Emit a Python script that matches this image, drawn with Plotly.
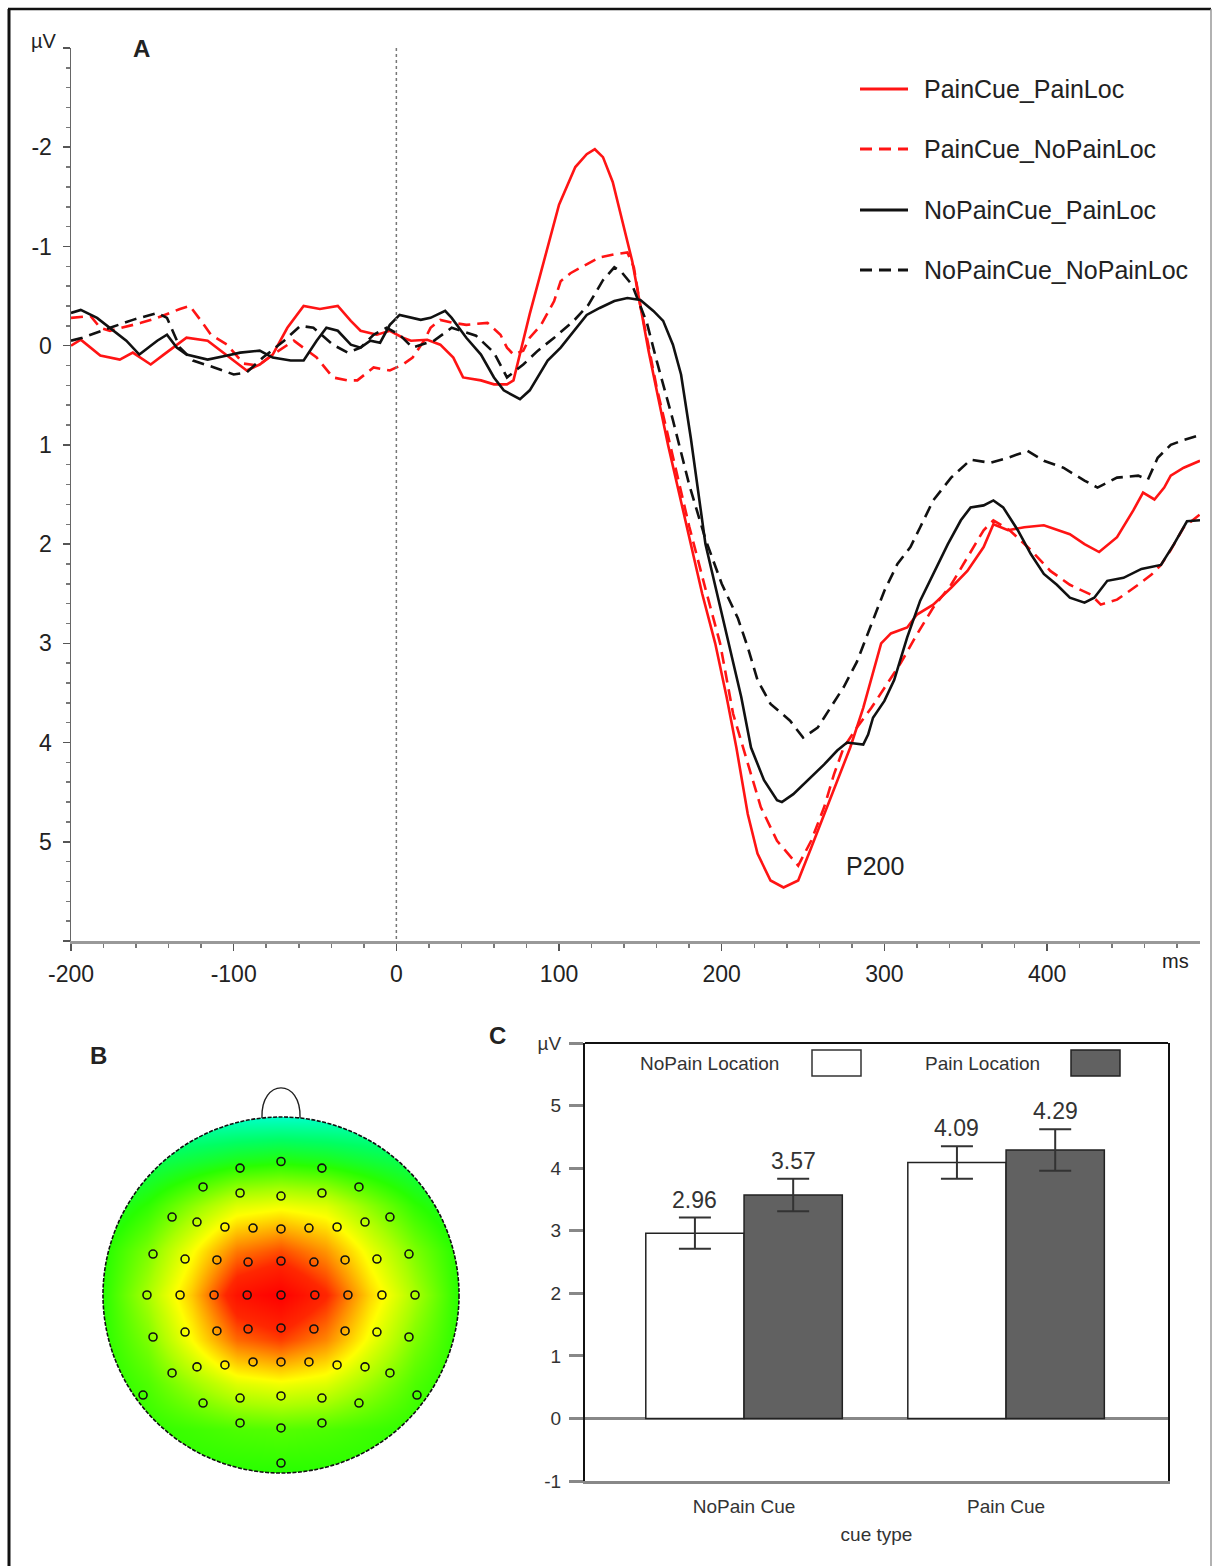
import math
import plotly.graph_objects as go

W, H = 1213, 1566
FONT = "Liberation Sans, Arial, sans-serif"

# ---------------- Panel A: ERP waveforms (ms, µV) ----------------
rs_t = [-200, -194, -182, -170, -162, -151, -143, -129, -116, -108,
        -100, -92, -84, -76, -67, -57, -47, -36, -28, -22,
        -12, -4, 4, 9, 19, 27, 35, 41, 52, 60,
        68, 72, 82, 93, 100, 110, 117, 122, 127, 133,
        140, 145, 150, 155, 160, 167, 174, 181, 188, 196,
        203, 209, 216, 222, 230, 238, 247, 255, 263, 271,
        279, 287, 293, 298, 304, 314, 320, 330, 341, 351,
        361, 367, 376, 386, 398, 414, 423, 432, 443, 453,
        459, 466, 472, 476, 484, 494]
rs_v = [0.00, -0.06, 0.10, 0.14, 0.07, 0.19, 0.09, -0.08, -0.05, 0.05,
        0.15, 0.25, 0.19, 0.09, -0.18, -0.40, -0.37, -0.40, -0.25, -0.15,
        -0.11, -0.15, -0.08, -0.05, -0.06, -0.01, 0.12, 0.32, 0.35, 0.39,
        0.39, 0.35, -0.32, -0.99, -1.42, -1.80, -1.93, -1.98, -1.90, -1.65,
        -1.20, -0.85, -0.40, 0.05, 0.45, 1.00, 1.50, 2.00, 2.50, 3.00,
        3.54, 4.05, 4.72, 5.12, 5.39, 5.46, 5.39, 5.06, 4.72, 4.38,
        4.05, 3.65, 3.30, 3.00, 2.90, 2.84, 2.71, 2.61, 2.44, 2.27,
        2.03, 1.80, 1.86, 1.83, 1.81, 1.90, 2.00, 2.08, 1.93, 1.66,
        1.48, 1.55, 1.43, 1.31, 1.23, 1.16]

rd_t = [-200, -188, -182, -176, -157, -147, -133, -127, -120, -114,
        -104, -94, -85, -75, -63, -49, -39, -30, -24, -14,
        -4, 4, 10, 17, 21, 27, 35, 43, 56, 64,
        68, 72, 78, 82, 89, 97, 101, 107, 117, 125,
        134, 142, 146, 150, 155, 160, 170, 180, 190, 199,
        207, 216, 224, 234, 247, 255, 263, 269, 275, 283,
        292, 300, 310, 320, 330, 341, 351, 361, 367, 377,
        390, 402, 414, 427, 433, 443, 456, 464, 470, 476,
        484, 494]
rd_v = [-0.28, -0.30, -0.18, -0.15, -0.23, -0.28, -0.37, -0.40, -0.25, -0.11,
        -0.01, 0.18, 0.20, 0.08, -0.05, 0.12, 0.32, 0.35, 0.35, 0.22,
        0.25, 0.19, 0.12, -0.05, -0.18, -0.26, -0.23, -0.21, -0.23, -0.11,
        0.02, 0.09, 0.05, -0.08, -0.21, -0.45, -0.65, -0.73, -0.82, -0.89,
        -0.92, -0.94, -0.79, -0.40, 0.00, 0.42, 1.12, 1.82, 2.45, 3.00,
        3.71, 4.22, 4.65, 4.99, 5.24, 4.99, 4.65, 4.32, 4.05, 3.85,
        3.65, 3.45, 3.20, 2.91, 2.64, 2.41, 2.13, 1.86, 1.76, 1.86,
        2.06, 2.27, 2.41, 2.51, 2.61, 2.56, 2.41, 2.31, 2.21, 2.06,
        1.83, 1.70]

bs_t = [-200, -194, -184, -174, -166, -158, -147, -141, -135, -129,
        -116, -104, -96, -84, -76, -65, -57, -49, -43, -36,
        -28, -22, -16, -10, -4, 2, 15, 21, 30, 34,
        43, 52, 60, 66, 76, 82, 93, 101, 109, 117,
        125, 134, 142, 150, 158, 164, 170, 175, 181, 190,
        200, 205, 212, 218, 226, 234, 237, 244, 253, 263,
        271, 277, 287, 290, 293, 300, 306, 314, 322, 330,
        339, 347, 353, 361, 367, 373, 382, 390, 398, 406,
        414, 423, 429, 437, 447, 458, 470, 478, 486, 494]
bs_v = [-0.33, -0.36, -0.28, -0.15, -0.05, 0.09, -0.05, -0.11, 0.02, 0.09,
        0.14, 0.10, 0.07, 0.05, 0.12, 0.15, 0.15, -0.05, -0.18, -0.15,
        -0.01, 0.02, -0.05, -0.03, -0.21, -0.31, -0.26, -0.28, -0.35, -0.28,
        -0.08, 0.09, 0.32, 0.45, 0.54, 0.45, 0.15, 0.02, -0.15, -0.31,
        -0.38, -0.45, -0.48, -0.46, -0.35, -0.25, -0.01, 0.29, 0.93, 2.00,
        2.70, 3.04, 3.54, 4.05, 4.38, 4.58, 4.60, 4.52, 4.38, 4.22,
        4.08, 4.00, 4.02, 3.92, 3.75, 3.58, 3.37, 2.94, 2.57, 2.30,
        2.00, 1.76, 1.63, 1.61, 1.56, 1.63, 1.86, 2.10, 2.30, 2.41,
        2.54, 2.59, 2.54, 2.37, 2.34, 2.25, 2.21, 2.00, 1.77, 1.76]

bd_t = [-200, -193, -176, -162, -147, -141, -133, -125, -112, -100,
        -92, -82, -69, -59, -51, -39, -30, -22, -14, -6,
        2, 10, 23, 34, 49, 60, 68, 78, 87, 97,
        109, 118, 127, 134, 138, 145, 154, 160, 170, 180,
        190, 200, 210, 216, 222, 230, 242, 250, 259, 267,
        275, 283, 292, 300, 308, 316, 322, 330, 341, 353,
        365, 376, 388, 398, 410, 423, 431, 443, 456, 462,
        468, 476, 484, 494]
bd_v = [-0.05, -0.08, -0.18, -0.26, -0.33, -0.28, 0.02, 0.15, 0.22, 0.29,
        0.27, 0.12, -0.05, -0.20, -0.18, -0.01, 0.07, 0.02, -0.11, -0.18,
        -0.11, 0.02, -0.05, -0.18, -0.10, 0.07, 0.32, 0.19, 0.05, -0.08,
        -0.25, -0.41, -0.66, -0.79, -0.75, -0.61, -0.23, 0.15, 0.75, 1.40,
        1.95, 2.40, 2.75, 3.04, 3.37, 3.61, 3.78, 3.95, 3.85, 3.65,
        3.44, 3.19, 2.81, 2.47, 2.20, 2.03, 1.83, 1.56, 1.33, 1.15,
        1.18, 1.13, 1.06, 1.16, 1.23, 1.36, 1.43, 1.33, 1.31, 1.35,
        1.13, 1.00, 0.95, 0.90]

series_names = ["PainCue_PainLoc", "PainCue_NoPainLoc",
                "NoPainCue_PainLoc", "NoPainCue_NoPainLoc"]
x_ticks = [-200, -100, 0, 100, 200, 300, 400]
x_ticklabels = ["-200", "-100", "0", "100", "200", "300", "400"]
y_ticks = [-3, -2, -1, 0, 1, 2, 3, 4, 5, 6]
y_ticklabels = ["", "-2", "-1", "0", "1", "2", "3", "4", "5", ""]

# ---------------- Panel C: bar chart ----------------
cue_types = ["NoPain Cue", "Pain Cue"]
nopainloc_mean = [2.96, 4.09]
nopainloc_err = [0.25, 0.26]
painloc_mean = [3.57, 4.29]
painloc_err = [0.26, 0.33]
bar_y_ticks = [-1, 0, 1, 2, 3, 4, 5, 6]
bar_y_labels = ["-1", "0", "1", "2", "3", "4", "5", "µV"]

# ---------------- Panel B: topography (relative amplitude) ----------------
topo_x = [-1, -0.75, -0.5, -0.25, 0, 0.25, 0.5, 0.75, 1]
topo_y = [-1, -0.75, -0.5, -0.25, 0, 0.25, 0.5, 0.75, 1]
topo_z = [
    [0.25, 0.25, 0.25, 0.25, 0.25, 0.25, 0.25, 0.25, 0.25],
    [0.25, 0.26, 0.28, 0.30, 0.31, 0.30, 0.28, 0.26, 0.25],
    [0.24, 0.30, 0.40, 0.50, 0.53, 0.50, 0.40, 0.30, 0.24],
    [0.25, 0.36, 0.55, 0.76, 0.82, 0.72, 0.53, 0.36, 0.25],
    [0.25, 0.42, 0.63, 0.93, 1.00, 0.86, 0.61, 0.42, 0.25],
    [0.24, 0.36, 0.54, 0.74, 0.80, 0.70, 0.52, 0.36, 0.24],
    [0.18, 0.26, 0.38, 0.50, 0.53, 0.50, 0.38, 0.26, 0.18],
    [0.10, 0.14, 0.18, 0.22, 0.24, 0.22, 0.18, 0.14, 0.10],
    [0.00, 0.00, 0.00, 0.00, 0.00, 0.00, 0.00, 0.00, 0.00],
]
elec_x = [0.0, -0.23, 0.23,
          -0.438, -0.23, 0.0, 0.23, 0.438,
          -0.612, -0.472, -0.315, -0.157, 0.0, 0.157, 0.315, 0.472, 0.612,
          -0.719, -0.539, -0.36, -0.185, 0.0, 0.185, 0.36, 0.539, 0.719,
          -0.753, -0.567, -0.376, -0.19, 0.0, 0.19, 0.376, 0.567, 0.753,
          -0.719, -0.539, -0.36, -0.185, 0.0, 0.185, 0.36, 0.539, 0.719,
          -0.612, -0.472, -0.315, -0.157, 0.0, 0.157, 0.315, 0.472, 0.612,
          -0.775, 0.764,
          -0.438, -0.23, 0.0, 0.23, 0.438,
          -0.23, 0.0, 0.23,
          0.0]
elec_y = [0.75, 0.713, 0.713,
          0.607, 0.573, 0.556, 0.573, 0.607,
          0.438, 0.41, 0.382, 0.376, 0.371, 0.376, 0.382, 0.41, 0.438,
          0.23, 0.202, 0.197, 0.185, 0.191, 0.185, 0.197, 0.202, 0.23,
          0.0, 0.0, 0.0, 0.0, 0.0, 0.0, 0.0, 0.0, 0.0,
          -0.236, -0.208, -0.202, -0.191, -0.185, -0.191, -0.202, -0.208, -0.236,
          -0.438, -0.404, -0.393, -0.376, -0.376, -0.376, -0.393, -0.404, -0.438,
          -0.562, -0.562,
          -0.607, -0.579, -0.567, -0.579, -0.607,
          -0.719, -0.747, -0.719,
          -0.944]

TOPO_CS = [[0.0, "rgb(0,255,200)"], [0.12, "rgb(0,255,100)"],
           [0.25, "rgb(40,255,0)"], [0.42, "rgb(170,255,0)"],
           [0.55, "rgb(255,255,0)"], [0.7, "rgb(255,150,0)"],
           [0.85, "rgb(255,40,0)"], [1.0, "rgb(255,0,0)"]]


def pxx(x):
    return x / W


def pyy(y):
    return 1 - y / H


RED = "#ff1414"
BLK = "#111111"
DASH = "12px,7px"

fig = go.Figure()

styles = [(rs_t, rs_v, RED, "solid"), (rd_t, rd_v, RED, DASH),
          (bs_t, bs_v, BLK, "solid"), (bd_t, bd_v, BLK, DASH)]
for name, (t, v, c, d) in zip(series_names, styles):
    fig.add_trace(go.Scatter(x=t, y=v, mode="lines", name=name,
                             line=dict(color=c, width=2.6, dash=d),
                             showlegend=False, xaxis="x", yaxis="y",
                             hoverinfo="skip"))

bargap = 0.25
bar_w = (1 - bargap) / 2
cat_x = list(range(len(cue_types)))
fig.add_trace(go.Bar(x=cat_x, y=nopainloc_mean, name="NoPain Location",
                     marker=dict(color="white", line=dict(color="#222", width=1.5)),
                     error_y=dict(type="data", array=nopainloc_err, color="#333",
                                  thickness=2, width=16),
                     xaxis="x2", yaxis="y2", showlegend=False))
fig.add_trace(go.Bar(x=cat_x, y=painloc_mean, name="Pain Location",
                     marker=dict(color="#616161", line=dict(color="#222", width=1.5)),
                     error_y=dict(type="data", array=painloc_err, color="#333",
                                  thickness=2, width=16),
                     xaxis="x2", yaxis="y2", showlegend=False))

fig.add_trace(go.Heatmap(x=topo_x, y=topo_y, z=topo_z, zsmooth="best",
                         colorscale=TOPO_CS, zmin=0, zmax=1, showscale=False,
                         xaxis="x3", yaxis="y3", hoverinfo="skip"))
fig.add_trace(go.Scatter(x=elec_x, y=elec_y, mode="markers",
                         marker=dict(symbol="circle-open", size=8, color="#111",
                                     line=dict(width=1.6, color="#111")),
                         xaxis="x3", yaxis="y3", showlegend=False, hoverinfo="skip"))

ann = []


def text(x, y, s, size, bold=False, xanchor="center", color="#222"):
    ann.append(dict(x=pxx(x), y=pyy(y), xref="paper", yref="paper",
                    text=f"<b>{s}</b>" if bold else s,
                    showarrow=False, xanchor=xanchor, yanchor="middle",
                    font=dict(family=FONT, size=size, color=color)))


text(44, 41, "µV", 20)
text(141, 48, "A", 24, bold=True)
text(1175, 961, "ms", 20)
text(875, 866, "P200", 25)
leg_y = [89, 149, 210, 270]
for name, yy in zip(series_names, leg_y):
    text(922, yy, name, 25, xanchor="left")
text(98, 1055, "B", 24, bold=True)
text(497, 1035, "C", 24, bold=True)
text(710, 1063, "NoPain Location", 19, color="#333")
text(982, 1063, "Pain Location", 19, color="#333")

for i in cat_x:
    for off, means, errs in [(-bar_w / 2, nopainloc_mean, nopainloc_err),
                             (bar_w / 2, painloc_mean, painloc_err)]:
        ann.append(dict(x=i + off, y=means[i] + errs[i], xref="x2", yref="y2",
                        text=f"{means[i]:.2f}", showarrow=False, yanchor="bottom",
                        yshift=3, font=dict(family=FONT, size=23, color="#333")))

shapes = []
# stimulus onset
shapes.append(dict(type="line", xref="x", yref="y", x0=0, x1=0, y0=-3, y1=6,
                   line=dict(color="#777", width=1.5, dash="dot")))
# legend samples
for (t, v, c, d), yy in zip(styles, leg_y):
    shapes.append(dict(type="line", xref="paper", yref="paper",
                       x0=pxx(860), x1=pxx(908), y0=pyy(yy), y1=pyy(yy),
                       line=dict(color=c, width=3, dash=d)))
# bar legend boxes
shapes.append(dict(type="rect", xref="paper", yref="paper", x0=pxx(812), x1=pxx(861),
                   y0=pyy(1076), y1=pyy(1050), fillcolor="white",
                   line=dict(color="#333", width=1.5)))
shapes.append(dict(type="rect", xref="paper", yref="paper", x0=pxx(1071), x1=pxx(1120),
                   y0=pyy(1076), y1=pyy(1050), fillcolor="#616161",
                   line=dict(color="#222", width=1.5)))
# bar chart top border
shapes.append(dict(type="line", xref="x2 domain", yref="y2 domain", x0=0, x1=1, y0=1, y1=1,
                   line=dict(color="#111", width=2)))
# topomap mask, head outline and nose
N = 180
circ = " L ".join(f"{math.cos(2 * math.pi * k / N):.4f},{math.sin(2 * math.pi * k / N):.4f}"
                  for k in range(N))
mask_path = "M -1.2,-1.2 L 1.2,-1.2 L 1.2,1.2 L -1.2,1.2 Z M " + circ + " Z"
shapes.append(dict(type="path", path=mask_path, xref="x3", yref="y3", fillcolor="white",
                   line=dict(width=0), layer="above", fillrule="evenodd"))
shapes.append(dict(type="circle", xref="x3", yref="y3", x0=-1, x1=1, y0=-1, y1=1,
                   line=dict(color="#111", width=1.6, dash="4px,1.5px"), layer="above"))
shapes.append(dict(type="path", xref="x3", yref="y3",
                   path="M -0.107,0.994 C -0.115,1.22 0.115,1.22 0.107,0.994",
                   line=dict(color="#222", width=1.4), layer="above"))
# outer frame
shapes.append(dict(type="line", xref="paper", yref="paper", x0=pxx(8), x1=pxx(1211),
                   y0=pyy(9), y1=pyy(9), line=dict(color="#111", width=2.5)))
shapes.append(dict(type="line", xref="paper", yref="paper", x0=pxx(9), x1=pxx(9),
                   y0=pyy(9), y1=0, line=dict(color="#111", width=3)))
shapes.append(dict(type="line", xref="paper", yref="paper", x0=pxx(1211), x1=pxx(1211),
                   y0=pyy(9), y1=0, line=dict(color="#999", width=1.5)))

tickfont = dict(family=FONT, size=23, color="#222")
bar_tickfont = dict(family=FONT, size=19, color="#333")

sq_half = 1.2 * 178
fig.update_layout(
    template="none",
    width=W, height=H, autosize=False,
    margin=dict(l=0, r=0, t=0, b=0, pad=0, autoexpand=False),
    paper_bgcolor="white", plot_bgcolor="rgba(0,0,0,0)",
    font=dict(family=FONT, color="#222"),
    barmode="group", bargap=bargap, bargroupgap=0,
    showlegend=False,
    annotations=ann, shapes=shapes,
    xaxis=dict(domain=[pxx(71), pxx(1200)], range=[-200, 494], anchor="y",
               automargin=False,
               tickmode="array", tickvals=x_ticks, ticktext=x_ticklabels,
               ticks="outside", ticklen=7, tickwidth=1.5, tickcolor="#555",
               minor=dict(tick0=0, dtick=20, ticks="outside", ticklen=4, tickcolor="#777"),
               showline=True, linecolor="#999", linewidth=2.5,
               showgrid=False, zeroline=False, tickfont=tickfont, ticklabelstandoff=4),
    yaxis=dict(domain=[pyy(941), pyy(48)], range=[6, -3], anchor="x",
               automargin=False,
               tickmode="array", tickvals=y_ticks, ticktext=y_ticklabels,
               ticks="outside", ticklen=7, tickwidth=1.5, tickcolor="#555",
               minor=dict(tick0=0, dtick=0.2, ticks="outside", ticklen=4, tickcolor="#777"),
               showline=True, linecolor="#666", linewidth=1.5,
               showgrid=False, zeroline=False, tickfont=tickfont, ticklabelstandoff=6),
    xaxis2=dict(domain=[pxx(585), pxx(1168)], range=[-0.607, 1.618], anchor="y2",
                automargin=False,
                tickmode="array", tickvals=cat_x, ticktext=cue_types, ticks="",
                showline=True, linecolor="#888", linewidth=3,
                showgrid=False, zeroline=False, tickfont=bar_tickfont, ticklabelstandoff=6,
                title=dict(text="cue type", font=bar_tickfont, standoff=12)),
    yaxis2=dict(domain=[pyy(1481), pyy(1043)], range=[-1, 6], anchor="x2",
                automargin=False,
                tickmode="array", tickvals=bar_y_ticks, ticktext=bar_y_labels,
                ticks="outside", ticklen=14, tickwidth=3, tickcolor="#888",
                showline=True, linecolor="#111", linewidth=2, mirror=True,
                showgrid=False, zeroline=True, zerolinecolor="#888", zerolinewidth=3,
                tickfont=bar_tickfont, ticklabelstandoff=4),
    xaxis3=dict(domain=[pxx(281 - sq_half), pxx(281 + sq_half)], range=[-1.2, 1.2],
                anchor="y3", visible=False, automargin=False),
    yaxis3=dict(domain=[pyy(1295 + sq_half), pyy(1295 - sq_half)], range=[-1.2, 1.2],
                anchor="x3", visible=False, automargin=False),
)

fig.write_html("out.html",
               config={"displayModeBar": False, "staticPlot": True},
               post_script="document.body.style.margin='0px';"
                           "document.body.style.padding='0px';"
                           "document.documentElement.style.overflow='hidden';")
